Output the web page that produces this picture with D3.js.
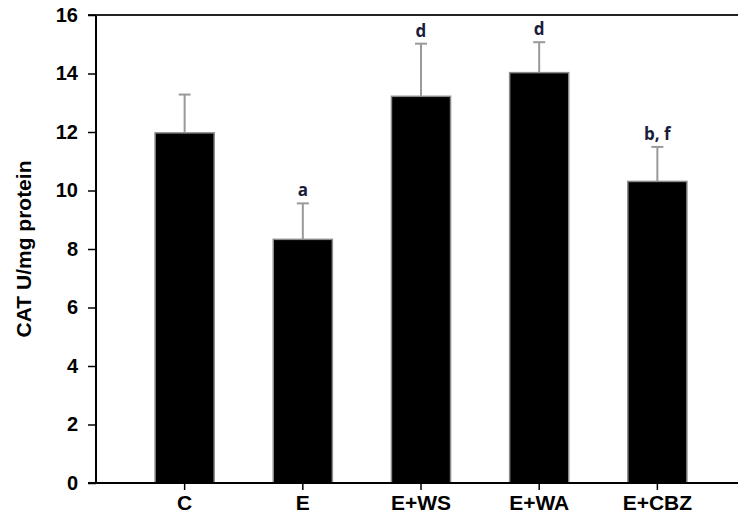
<!DOCTYPE html>
<html>
<head>
<meta charset="utf-8">
<script src="https://cdn.jsdelivr.net/npm/d3@7/dist/d3.min.js"></script>
<style>
  body { margin: 0; background: #fff; }
  svg { display: block; font-family: 'Liberation Sans', Arial, sans-serif; }
</style>
</head>
<body>
<div id="chart"></div>
<script>
// CAT activity per group (mean + upper error)
const categories = ['C', 'E', 'E+WS', 'E+WA', 'E+CBZ'];
const means = [11.97, 8.33, 13.22, 14.03, 10.31];
const errors = [1.31, 1.23, 1.80, 1.04, 1.18];
const sigLabels = ['', 'a', 'd', 'd', 'b, f'];
const yTicks = [0, 2, 4, 6, 8, 10, 12, 14, 16];

const W = 738, H = 519;
const margin = { top: 15, right: -8, bottom: 36, left: 96 };

const svg = d3.select('#chart').append('svg')
  .attr('width', W).attr('height', H);

const x = d3.scaleBand()
  .domain(categories)
  .range([margin.left, W - margin.right])
  .paddingInner(0.5).paddingOuter(0.5);

const y = d3.scaleLinear()
  .domain([0, 16])
  .range([H - margin.bottom, margin.top]);

const data = categories.map((c, i) => ({ name: c, mean: means[i], err: errors[i], sig: sigLabels[i] }));

// frame lines: left axis, top and bottom running off to the right edge
svg.append('line')
  .attr('x1', margin.left).attr('x2', margin.left)
  .attr('y1', y(16)).attr('y2', y(0))
  .attr('stroke', '#000').attr('stroke-width', 2);
svg.append('line')
  .attr('x1', margin.left - 8).attr('x2', W)
  .attr('y1', y(16)).attr('y2', y(16))
  .attr('stroke', '#222').attr('stroke-width', 2);

// bars
svg.selectAll('rect.bar').data(data).enter().append('rect')
  .attr('class', 'bar')
  .attr('x', d => x(d.name))
  .attr('y', d => y(d.mean))
  .attr('width', x.bandwidth())
  .attr('height', d => y(0) - y(d.mean))
  .attr('fill', '#000')
  .attr('stroke', '#8a8a8a').attr('stroke-width', 1.5);

// error bars (upper only)
const eb = svg.selectAll('g.err').data(data).enter().append('g').attr('class', 'err');
eb.append('line')
  .attr('x1', d => x(d.name) + x.bandwidth() / 2)
  .attr('x2', d => x(d.name) + x.bandwidth() / 2)
  .attr('y1', d => y(d.mean))
  .attr('y2', d => y(d.mean + d.err))
  .attr('stroke', '#999').attr('stroke-width', 2);
eb.append('line')
  .attr('x1', d => x(d.name) + x.bandwidth() / 2 - 6)
  .attr('x2', d => x(d.name) + x.bandwidth() / 2 + 6)
  .attr('y1', d => y(d.mean + d.err))
  .attr('y2', d => y(d.mean + d.err))
  .attr('stroke', '#999').attr('stroke-width', 2);

// significance letters
svg.selectAll('text.sig').data(data).enter().append('text')
  .attr('class', 'sig')
  .attr('x', d => x(d.name) + x.bandwidth() / 2)
  .attr('y', d => y(d.mean + d.err) - 7)
  .attr('text-anchor', 'middle')
  .style('font-family', "'Open Sans', 'Noto Sans', sans-serif")
  .style('font-size', '17px').style('font-weight', 'bold')
  .style('fill', '#1c1c3c')
  .text(d => d.sig);

// y axis ticks
const yAxis = svg.append('g')
  .attr('transform', `translate(${margin.left},0)`)
  .call(d3.axisLeft(y).tickValues(yTicks).tickSize(8).tickSizeOuter(0).tickPadding(10));
yAxis.select('.domain').remove();
yAxis.selectAll('.tick line').attr('stroke', '#000').attr('stroke-width', 1.5);
yAxis.selectAll('.tick text')
  .style('font-size', '20px').style('font-weight', 'bold')
  .style('font-family', "'Liberation Sans', Arial, sans-serif")
  .attr('fill', '#000');

// x axis
const xAxis = svg.append('g')
  .attr('transform', `translate(0,${y(0)})`)
  .call(d3.axisBottom(x).tickSize(7).tickSizeOuter(0).tickPadding(5));
xAxis.select('.domain').remove();
xAxis.selectAll('.tick line').attr('stroke', '#000').attr('stroke-width', 1.5);
xAxis.selectAll('.tick text')
  .style('font-size', '21px').style('font-weight', 'bold')
  .style('font-family', "'Liberation Sans', Arial, sans-serif")
  .attr('fill', '#000');
svg.append('line')
  .attr('x1', margin.left - 8).attr('x2', W)
  .attr('y1', y(0)).attr('y2', y(0))
  .attr('stroke', '#000').attr('stroke-width', 2);

// y axis title
svg.append('text')
  .attr('transform', `translate(31,${(y(0) + y(16)) / 2}) rotate(-90)`)
  .attr('text-anchor', 'middle')
  .style('font-size', '21px').style('font-weight', 'bold')
  .text('CAT U/mg protein');
</script>
</body>
</html>
